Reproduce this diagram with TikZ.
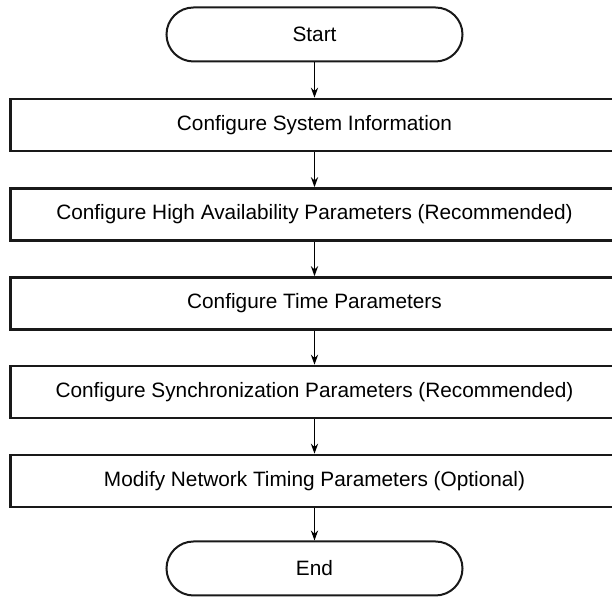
\documentclass[tikz,border=0pt]{standalone}
\usepackage{fontspec}
\setmainfont{Liberation Sans}
\usetikzlibrary{arrows.meta}
\colorlet{line edge}{black!90}
\tikzset{terminal/.style={draw=line edge, line width=1pt, rounded corners=13.5pt,
		minimum width=148pt, minimum height=27pt, font=\fontsize{10.4}{12}\selectfont},
	stepbox/.style={draw=line edge, line width=1.3pt, minimum width=304pt,
		minimum height=26pt, font=\fontsize{10.4}{12}\selectfont},
	flow/.style={-{Stealth[length=5pt,width=3.6pt]}, line width=0.5pt}}

\begin{document}
\begin{tikzpicture}[x=0.5pt,y=0.5pt]
		\useasboundingbox (0,0) rectangle (612,597);
		\node[terminal] (start) at (314.5,562.5) {Start};
		\node[stepbox] (sys) at (314.5,472) {Configure System Information};
		\node[stepbox] (ha) at (314.5,382.5) {Configure High Availability Parameters (Recommended)};
		\node[stepbox] (time) at (314.5,293.5) {Configure Time Parameters};
		\node[stepbox] (sync) at (314.5,205) {Configure Synchronization Parameters (Recommended)};
		\node[stepbox] (net) at (314.5,116) {Modify Network Timing Parameters (Optional)};
		\node[terminal] (end) at (314.5,28.5) {End};
		
		\foreach \a/\b in {start/sys, sys/ha, ha/time, time/sync, sync/net, net/end}
		\draw[flow] (\a) -- (\b);
		\end{tikzpicture}
\end{document}
